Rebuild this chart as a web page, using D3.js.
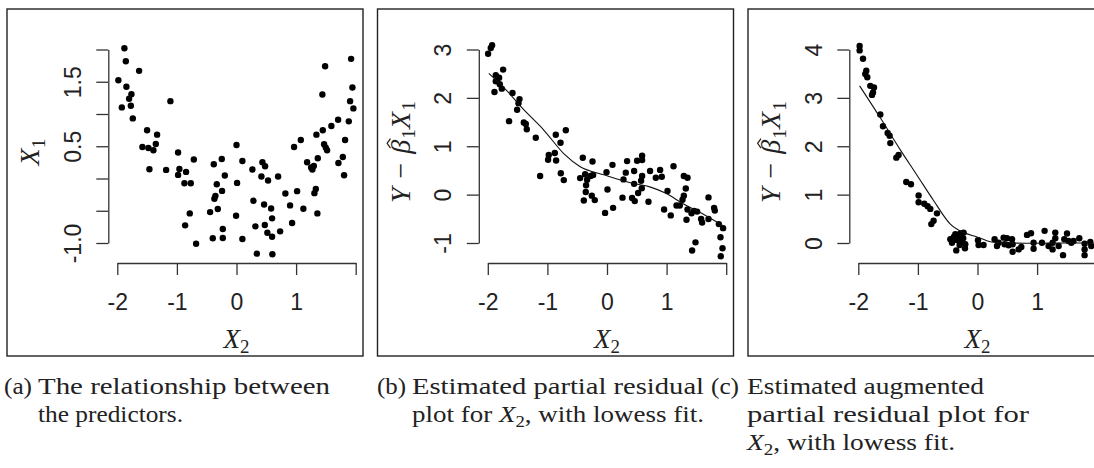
<!DOCTYPE html>
<html><head><meta charset="utf-8">
<script src="https://cdn.jsdelivr.net/npm/d3@7"></script>
<style>
body{margin:0;background:#fff;}
svg{display:block;}
</style></head>
<body>
<svg id="chart" width="1094" height="468"></svg>
<script>
// ---------- DATA ----------
// Panel (a): X2 vs X1
const aX2 = [-1.881,-1.857,-1.634,-1.982,-1.847,-1.763,-1.802,-1.924,-1.773,-1.109,-1.740,-1.500,-1.332,-1.354,-1.579,-1.478,-1.394,-0.980,-0.716,-1.461,-1.181,-0.958,-0.846,-0.980,-0.874,-0.767,-0.381,-0.247,-0.196,-0.331,-0.242,-0.354,-0.371,-0.784,-0.443,-0.314,-0.862,-0.230,-0.398,-0.230,-0.678,0.000,0.010,-0.007,0.099,0.099,0.267,0.435,0.480,0.418,0.530,0.698,0.284,0.463,0.581,0.597,0.475,0.317,0.518,0.597,0.732,0.341,0.602,0.820,0.899,0.933,1.017,1.122,0.966,1.079,1.185,1.252,1.273,1.297,1.364,1.307,1.331,1.357,1.341,1.448,1.441,1.487,1.470,1.498,1.520,1.592,1.705,1.710,1.784,1.822,1.805,1.884,1.906,1.923,1.945,1.961];
const aX1 = [2.019,1.818,1.669,1.524,1.422,1.308,1.236,1.102,1.128,1.199,0.932,0.747,0.680,0.535,0.488,0.473,0.437,0.402,0.294,0.144,0.133,0.148,0.102,0.056,-0.073,-0.073,0.221,0.303,0.046,-0.088,-0.192,-0.269,-0.315,-0.541,-0.521,-0.474,-0.726,-0.784,-0.927,-0.923,-1.011,0.519,-0.068,-0.578,0.272,-0.938,0.139,0.252,0.190,0.031,-0.031,0.031,-0.346,-0.402,-0.464,-0.618,-0.722,-0.742,-0.841,-0.903,-0.819,-1.165,-1.175,-0.232,-0.417,-0.691,-0.196,-0.470,0.488,0.597,0.252,0.170,0.139,0.195,0.314,-0.227,-0.161,-0.541,0.680,0.747,1.303,1.740,0.530,0.479,0.437,0.813,0.912,0.241,0.334,0.597,0.051,0.886,1.199,1.855,1.411,1.087];

// Panel (b): partial residuals
const bX2 = [-1.928,-1.950,-1.995,-1.743,-1.866,-1.810,-1.866,-1.799,-1.765,-1.888,-1.586,-1.468,-1.485,-1.508,-1.643,-1.396,-1.362,-1.346,-1.195,-0.691,-0.859,-0.780,-0.876,-0.977,-0.988,-0.854,-1.122,-0.775,-0.725,-0.406,-0.243,-0.451,-0.367,-0.334,-0.277,-0.233,-0.351,-0.356,-0.255,-0.205,-0.389,-0.008,-0.032,0.092,0.008,0.102,0.337,0.315,0.277,0.260,0.505,0.589,0.589,0.455,0.589,0.572,0.455,0.584,0.522,0.421,0.466,0.696,0.723,0.819,0.891,0.919,1.116,1.015,0.958,1.070,1.289,1.351,1.322,1.289,1.267,1.221,1.166,1.351,1.334,1.418,1.461,1.512,1.579,1.596,1.703,1.703,1.797,1.809,1.876,1.948,1.485,1.428,1.904,1.938,1.909];
const bRes = [3.088,3.032,2.912,2.584,2.471,2.416,2.345,2.282,2.191,2.122,2.101,1.975,1.891,1.756,1.519,1.492,1.462,1.351,1.176,1.330,1.239,1.071,0.861,0.819,0.721,0.706,0.384,0.441,0.300,0.763,0.685,0.342,0.420,0.307,0.384,0.405,0.195,0.055,-0.021,-0.113,-0.120,0.462,-0.378,0.616,0.105,-0.273,0.693,0.454,0.315,-0.063,0.700,0.805,0.714,0.489,0.384,0.286,0.223,0.132,0.034,-0.071,-0.134,-0.147,0.489,0.349,0.511,0.370,0.588,0.076,-0.309,-0.429,0.384,0.349,0.126,-0.021,-0.105,-0.225,-0.225,-0.309,-0.519,-0.387,-0.336,-0.351,-0.504,-0.576,-0.057,-0.504,-0.273,-0.330,-0.609,-0.693,-0.987,-1.155,-0.882,-1.107,-1.275];
const bFitX = [-1.983,-1.686,-1.408,-1.072,-0.708,-0.456,-0.037,0.438,0.718,0.998,1.277,1.557,1.948];
const bFitY = [2.506,2.155,1.771,1.351,0.826,0.580,0.405,0.231,0.160,0.021,-0.189,-0.366,-0.645];

// Panel (c): augmented partial residuals
const cX2 = [-1.978,-1.978,-1.921,-1.866,-1.883,-1.849,-1.799,-1.737,-1.753,-1.770,-1.631,-1.586,-1.508,-1.475,-1.463,-1.324,-1.362,-1.195,-1.116,-0.988,-0.988,-0.893,-0.837,-0.792,-0.680,-0.737,-0.775,-0.372,-0.289,-0.233,-0.428,-0.344,-0.260,-0.205,-0.356,-0.210,-0.456,-0.300,-0.395,-0.320,-0.240,0.008,0.102,0.018,0.287,0.327,0.354,0.438,0.495,0.579,0.455,0.522,0.589,0.589,0.690,0.735,0.831,0.898,0.941,0.941,1.082,1.126,1.193,1.260,1.305,1.305,1.260,1.361,1.435,1.456,1.502,1.529,1.574,1.612,1.708,1.797,1.797,1.797,1.893,1.909];
const cRes = [4.073,3.981,3.808,3.563,3.494,3.425,3.249,3.215,3.111,3.061,2.657,2.412,2.274,2.218,2.065,1.820,1.764,1.262,1.213,0.983,0.843,0.810,0.759,0.705,0.613,0.460,0.391,0.182,0.195,0.215,0.006,0.063,0.042,-0.027,-0.153,-0.111,0.077,-0.042,0.130,0.110,0.100,0.056,-0.042,-0.042,0.077,-0.063,0.006,0.111,0.098,0.077,-0.027,-0.048,-0.027,-0.182,-0.132,-0.084,0.167,0.203,0.006,-0.119,0.006,0.251,-0.063,0.006,0.215,0.098,-0.132,-0.063,-0.251,0.077,0.195,0.042,0.006,0.042,0.098,-0.015,-0.132,-0.251,0.021,-0.063];
const cFitX = [-1.978,-1.631,-1.295,-1.015,-0.737,-0.456,-0.233,-0.008,0.215,0.411,0.970,1.500,1.950];
const cFitY = [3.249,2.588,1.925,1.402,0.879,0.391,0.215,0.126,0.027,0.006,-0.006,0.000,0.000];

// Axis ticks / labels
const xTicks = [-2,-1,0,1,2];
const xLabels = ["-2","-1","0","1",""];
const aYTicks = [-1.0,-0.5,0.0,0.5,1.0,1.5,2.0];
const aYLabels = ["-1.0","","","0.5","","1.5",""];
const bYTicks = [-1,0,1,2,3];
const bYLabels = ["-1","0","1","2","3"];
const cYTicks = [0,1,2,3,4];
const cYLabels = ["0","1","2","3","4"];

// ---------- DRAW ----------
const SANS = "Liberation Sans, Arial, sans-serif";
const SERIF = "Liberation Serif, Times New Roman, serif";
const INK = "#222";
const svg = d3.select("#chart");
const STEP = 370.5;

function mathLabel(parent, parts, size) {
  const g = parent.append("g");
  let cx = 0;
  parts.forEach(p => {
    const fs = p.sub ? size*0.7 : size;
    const t = g.append("text").attr("x", cx).attr("y", p.sub ? size*0.2 : 0)
      .attr("font-family", SERIF).attr("font-size", fs)
      .attr("font-style", p.it ? "italic" : "normal").attr("fill", INK).text(p.t);
    const w = t.node().getComputedTextLength();
    if (p.hat) {
      const hx = cx + w/2 + size*0.12, hy = -size*0.78;
      g.append("path").attr("d", `M${hx-size*0.17},${hy+size*0.09} L${hx},${hy-size*0.03} L${hx+size*0.17},${hy+size*0.09}`)
        .attr("fill","none").attr("stroke",INK).attr("stroke-width",1.2);
    }
    cx += w + (p.after || 0);
  });
  return {g, width: cx};
}

function panel(i, xs, ys, yTicks, yLabels, yDomain, fitX, fitY, yParts) {
  const off = i*STEP;
  const g = svg.append("g");
  g.append("rect").attr("x",7+off).attr("y",9).attr("width",356).attr("height",347)
   .attr("fill","none").attr("stroke","#222").attr("stroke-width",1.4);
  const x = d3.scaleLinear().domain([-2,2]).range([117.3+off, 355.7+off]);
  const y = d3.scaleLinear().domain(yDomain).range([243, 49.5]);
  const xa = g.append("g").attr("transform","translate(0,263)")
    .call(d3.axisBottom(x).tickValues(xTicks).tickSize(12).tickSizeOuter(0).tickFormat((d,k)=>xLabels[k]));
  xa.attr("font-size",null).attr("font-family",null);
  xa.select(".domain").attr("stroke","#333").attr("stroke-width",1.3);
  xa.selectAll(".tick line").attr("stroke","#333").attr("stroke-width",1.3);
  xa.selectAll(".tick text").attr("y",47).attr("dy",null)
    .attr("font-family",SANS).attr("font-size",23).attr("fill",INK);
  const ax = 108.3+off;
  const ya = g.append("g").attr("transform",`translate(${ax},0)`)
    .call(d3.axisLeft(y).tickValues(yTicks).tickSize(12).tickSizeOuter(0).tickFormat((d,k)=>yLabels[k]));
  ya.attr("font-size",null).attr("font-family",null);
  ya.select(".domain").attr("stroke","#333").attr("stroke-width",1.3);
  ya.selectAll(".tick line").attr("stroke","#333").attr("stroke-width",1.3);
  ya.selectAll(".tick text").attr("x",null).attr("y",0).attr("dy",null)
    .attr("text-anchor","middle").attr("font-family",SANS).attr("font-size",23).attr("fill",INK)
    .attr("transform","translate(-27.5,0) rotate(-90)");
  g.append("g").selectAll("circle").data(xs.map((v,k)=>[v,ys[k]])).join("circle")
    .attr("cx",d=>x(d[0])).attr("cy",d=>y(d[1])).attr("r",3.2).attr("fill","#000");
  if (fitX) {
    const line = d3.line().x(d=>x(d[0])).y(d=>y(d[1])).curve(d3.curveMonotoneX);
    g.append("path").datum(fitX.map((v,k)=>[v,fitY[k]])).attr("d",line)
      .attr("fill","none").attr("stroke","#111").attr("stroke-width",1.1);
  }
  const xt = mathLabel(g, [{t:"X",it:true},{t:"2",sub:true}], 27);
  xt.g.attr("transform",`translate(${236.5+off - xt.width/2},348)`);
  const yt = mathLabel(g, yParts, 28);
  yt.g.attr("transform",`translate(${ax-69},152) rotate(-90) translate(${-yt.width/2},0)`);
}

const titleX1 = [{t:"X",it:true},{t:"1",sub:true}];
const titleRes = [{t:"Y",it:true,after:9},{t:"\u2212",after:9},{t:"\u03B2",it:true,hat:true,after:1},{t:"1",sub:true},{t:"X",it:true,after:1},{t:"1",sub:true}];

panel(0, aX2, aX1, aYTicks, aYLabels, [-1,2], null, null, titleX1);
panel(1, bX2, bRes, bYTicks, bYLabels, [-1,3], bFitX, bFitY, titleRes);
panel(2, cX2, cRes, cYTicks, cYLabels, [0,4], cFitX, cFitY, titleRes);

// ---------- CAPTIONS ----------
function cap(x, y, parts, width) {
  const t = svg.append("text").attr("x",x).attr("y",y)
    .attr("font-family",SERIF).attr("font-size",23).attr("fill",INK);
  parts.forEach(p=>{
    const s = t.append("tspan").text(p.t);
    if (p.i) s.attr("font-style","italic");
    if (p.sub) s.attr("font-size",16).attr("dy",5);
    if (p.up) s.attr("dy",-5);
  });
  if (width) t.attr("textLength",width).attr("lengthAdjust","spacingAndGlyphs");
}
cap(4, 394, [{t:"(a)"}], 28);
cap(38, 394, [{t:"The relationship between"}], 292);
cap(38, 422, [{t:"the predictors."}], 145);
cap(377, 394, [{t:"(b)"}], 29);
cap(412, 394, [{t:"Estimated partial residual"}], 292);
cap(412, 422, [{t:"plot for "},{t:"X",i:true},{t:"2",sub:true},{t:", with lowess fit.",up:true}], 292);
cap(711, 394, [{t:"(c)"}], 28);
cap(747, 394, [{t:"Estimated augmented"}], 237);
cap(747, 422, [{t:"partial residual plot for"}], 282);
cap(747, 450, [{t:"X",i:true},{t:"2",sub:true},{t:", with lowess fit.",up:true}], 208);
</script>
</body></html>
